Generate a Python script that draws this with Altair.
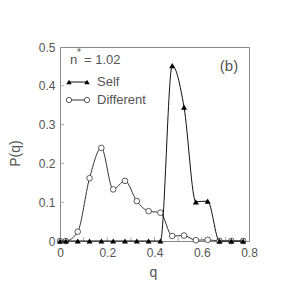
import altair as alt
import pandas as pd

q = [0.0, 0.025, 0.075, 0.125, 0.175, 0.225, 0.275, 0.325, 0.375, 0.425,
     0.475, 0.525, 0.575, 0.625, 0.675, 0.725, 0.775]
self_p = [0, 0, 0, 0, 0, 0, 0, 0, 0, 0,
          0.452, 0.345, 0.101, 0.103, 0, 0, 0]
diff_p = [0, 0, 0.024, 0.162, 0.240, 0.133, 0.155, 0.103, 0.077, 0.073,
          0.013, 0.014, 0.002, 0.003, 0, 0, 0]
x_ticks = [0.0, 0.1, 0.2, 0.3, 0.4, 0.5, 0.6, 0.7, 0.8]
y_ticks = [0.0, 0.1, 0.2, 0.3, 0.4, 0.5]

W, H = 189, 194
FONT = "Liberation Sans"
GREY = "#555555"
LINE = "#333333"

df_self = pd.DataFrame({"q": q, "p": self_p})
df_diff = pd.DataFrame({"q": q, "p": diff_p})

xs = alt.Scale(domain=[0, 0.8], nice=False, zero=False)
ys = alt.Scale(domain=[0, 0.5], nice=False)

xenc = alt.X("q:Q", scale=xs, axis=alt.Axis(
    values=x_ticks, labelExpr="round(datum.value*10)%2==0 ? (datum.value==0 ? '0' : format(datum.value, '.1f')) : ''",
    title="q", ticks=False, domain=False, grid=False,
    labelOverlap=False, labelFlush=False,
    labelPadding=6, labelFontSize=12, labelColor=GREY, labelFont=FONT,
    titleFontSize=14, titleColor=GREY, titleFont=FONT, titleFontWeight="normal",
    titleX=93, titleY=24))
yenc = alt.Y("p:Q", scale=ys, axis=alt.Axis(
    values=y_ticks, labelExpr="datum.value==0 ? '0' : format(datum.value, '.1f')",
    title="P(q)", ticks=False, domain=False, grid=False, labelOverlap=False,
    labelPadding=5, labelFontSize=12, labelColor=GREY, labelFont=FONT,
    titleFontSize=14, titleColor=GREY, titleFont=FONT, titleFontWeight="normal",
    titleX=-38, titleY=106, titleAngle=270))

diff_line = alt.Chart(df_diff).mark_line(interpolate="monotone", color=LINE, strokeWidth=1).encode(x=xenc, y=yenc)
diff_pts = alt.Chart(df_diff).mark_point(shape="circle", filled=True, fill="white", stroke=LINE,
                                         strokeWidth=0.8, size=32, opacity=1).encode(x=xenc, y=yenc)
self_line = alt.Chart(df_self).mark_line(interpolate="monotone", color="#111111", strokeWidth=1).encode(x=xenc, y=yenc)
self_pts = alt.Chart(df_self).mark_point(shape="triangle-up", filled=True, color="black",
                                         size=36, opacity=1).encode(x=xenc, y=yenc)

xt = alt.Chart(pd.DataFrame({"q": x_ticks[1:-1]})).mark_rule(color="#aaaaaa", strokeWidth=1).encode(
    x=xenc, y=alt.value(H), y2=alt.value(H - 4))
yt = alt.Chart(pd.DataFrame({"p": y_ticks[1:-1]})).mark_rule(color="#aaaaaa", strokeWidth=1).encode(
    y=yenc, x=alt.value(0), x2=alt.value(4))

one = pd.DataFrame({"a": [0]})

def txt(s, x, y, size=13, align="left", baseline="middle"):
    return alt.Chart(one).mark_text(text=s, align=align, baseline=baseline, fontSize=size,
                                    font=FONT, color=GREY).encode(x=alt.value(x), y=alt.value(y))

def legpt(x, y, kind):
    if kind == "tri":
        m = alt.Chart(one).mark_point(shape="triangle-up", filled=True, color="black", size=30, opacity=1)
    else:
        m = alt.Chart(one).mark_point(shape="circle", filled=True, fill="white", stroke=LINE,
                                      strokeWidth=0.8, size=28, opacity=1)
    return m.encode(x=alt.value(x), y=alt.value(y))

leg_self_line = alt.Chart(one).mark_rule(color="#111111", strokeWidth=1).encode(
    x=alt.value(9), x2=alt.value(27), y=alt.value(35))
leg_diff_line = alt.Chart(one).mark_rule(color=LINE, strokeWidth=1).encode(
    x=alt.value(9), x2=alt.value(27), y=alt.value(53))

chart = alt.layer(
    diff_line, xt, yt,
    diff_pts, self_line, self_pts,
    leg_self_line, legpt(9, 35, "tri"), legpt(27, 35, "tri"),
    leg_diff_line, legpt(9, 53, "circ"), legpt(27, 53, "circ"),
    txt("n", 10, 13),
    txt("*", 17, 6, size=10),
    txt("= 1.02", 24, 13),
    txt("Self", 37, 35),
    txt("Different", 37, 53),
    txt("(b)", 169, 19, size=15, align="center"),
).properties(
    width=W, height=H,
    autosize=alt.AutoSizeParams(type="none"),
    padding={"left": 52, "top": 39, "right": 43, "bottom": 51},
).configure_view(stroke="#888888", strokeWidth=1)

chart.save("out.html", embed_options={"renderer": "svg", "actions": False})
